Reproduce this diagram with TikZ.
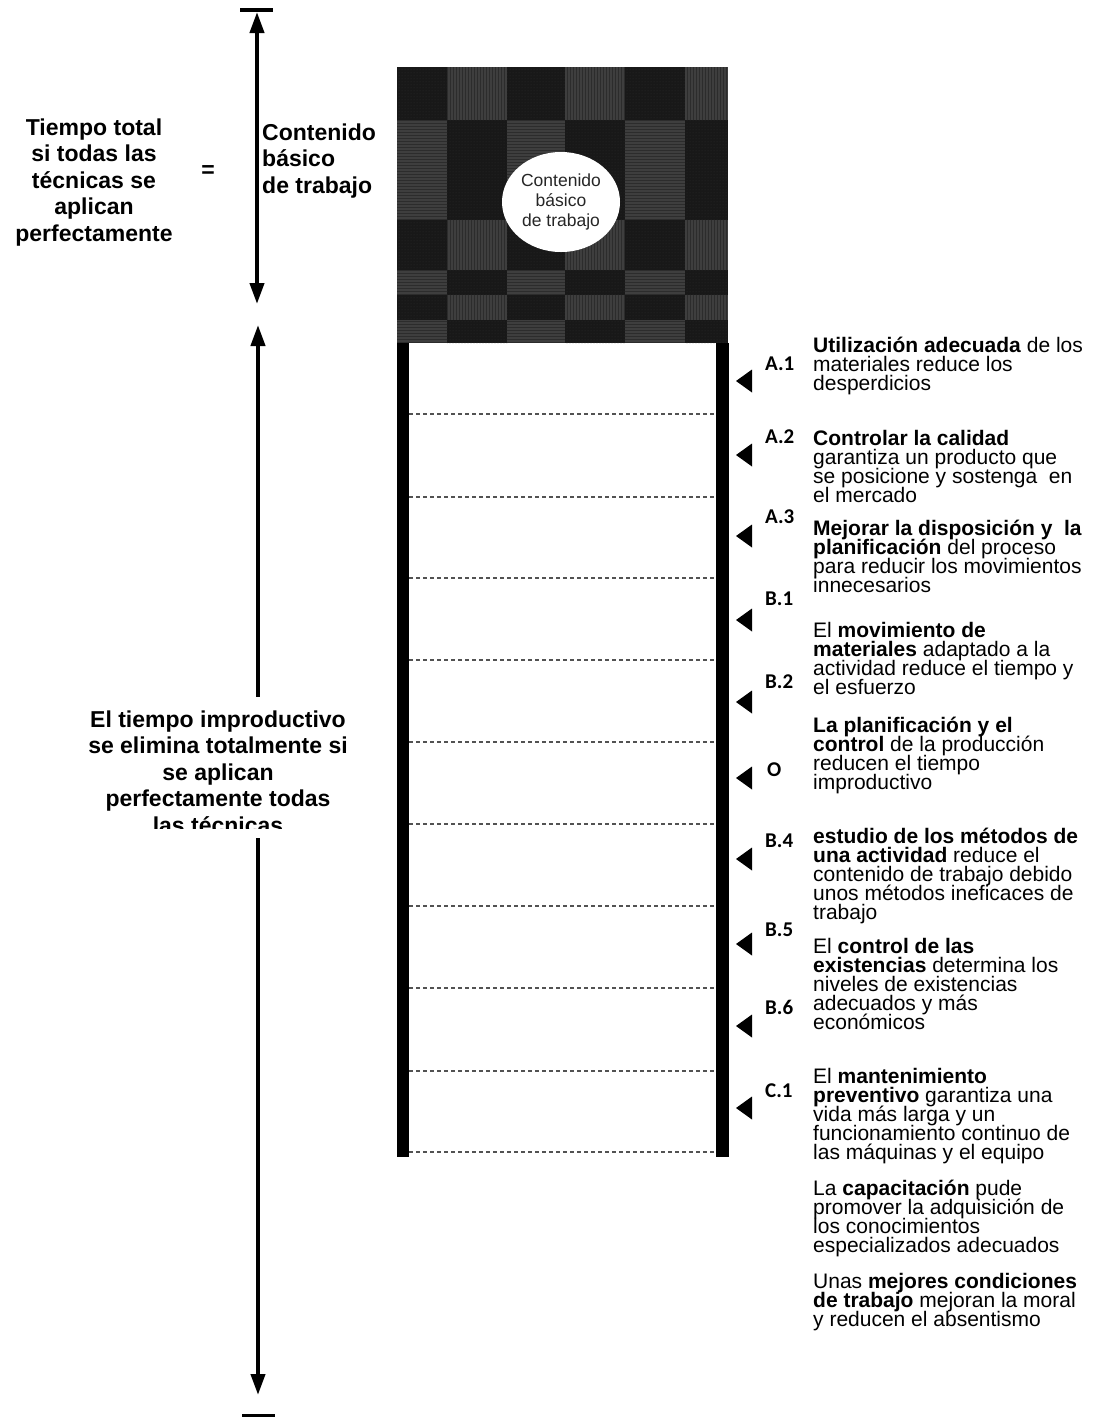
\documentclass[tikz,border=0pt]{standalone}
\usepackage{fontspec}
\setmainfont{Liberation Sans}
\newfontfamily\calib{Carlito}
\usetikzlibrary{arrows.meta,shapes.geometric,patterns}
\definecolor{cdark}{HTML}{181818}
\definecolor{cmed}{HTML}{3E3E3E}
\definecolor{cstripe}{HTML}{2C2C2C}
\definecolor{cnoise}{HTML}{2E2E2E}
\newcommand\rblock[3]{%
  \foreach \t [count=\i] in {#3}
    \node[rtext] (#1-\i) at (813,{#2+19.2*(\i-1)}) {\t};}
\begin{document}
\begin{tikzpicture}[x=1pt,y=-1pt,
  rtext/.style={anchor=base west,inner sep=0pt,font=\fontsize{21}{21}\selectfont},
  ltext/.style={anchor=base,inner sep=0pt,font=\fontsize{23}{23}\selectfont\bfseries},
  lab/.style={anchor=base west,inner sep=0pt,font=\calib\fontsize{21}{21}\selectfont\bfseries},
  tip/.tip={Triangle[length=21pt,width=14pt]},
  dimline/.style={line width=4pt},
  rowline/.style={draw=black!68,line width=2pt,dash pattern=on 4pt off 3pt},
  barfill/.style={fill=black}]
\useasboundingbox (0,0) rectangle (1098,1417);

% ---------- patterned block ----------
\foreach \ya/\yb/\p in {67/120/0,120/170/1,170/220/1,220/270/0,270/295/1,295/320/0,320/343/1}{
  \foreach \xa/\xb [count=\c] in {397/447,447/507,507/565,565/625,625/685,685/728}{
    \pgfmathtruncatemacro\k{mod(\c+\p,2)}
    \ifnum\k=1
      \fill[cdark] (\xa,\ya) rectangle (\xb,\yb);
      \fill[pattern=dots,pattern color=cnoise] (\xa,\ya) rectangle (\xb,\yb);
    \else
      \fill[cmed] (\xa,\ya) rectangle (\xb,\yb);
      \ifodd\c
        \fill[pattern=horizontal lines,pattern color=cstripe] (\xa,\ya) rectangle (\xb,\yb);
      \else
        \fill[pattern=vertical lines,pattern color=cstripe] (\xa,\ya) rectangle (\xb,\yb);
      \fi
    \fi
  }}
\node[ellipse,fill=white,inner sep=0pt,minimum width=118pt,minimum height=100pt,
      align=center,text=black!85,font=\fontsize{17.5}{20}\selectfont] (circ) at (561,202)
      {Contenido\\básico\\de trabajo};

% ---------- white column ----------
\fill[barfill] (397,343) rectangle (409,1157);
\fill[barfill] (716,343) rectangle (729,1157);
\foreach \y in {414,497,578,660,742,824,906,988,1071,1152}
  \draw[rowline] (409,\y) -- (716,\y);

% ---------- pointers ----------
\foreach \c in {381,455,536,620,702,778,859,944,1026,1108}
  \fill (736,\c) -- (752,\c-11.5) -- (752,\c+11.5) -- cycle;

% ---------- labels ----------
\node[lab] (A1) at (765,370) {A.1};
\node[lab] (A2) at (765,443) {A.2};
\node[lab] (A3) at (765,523) {A.3};
\node[lab] (B1) at (765,605) {B.1};
\node[lab] (B2) at (765,688) {B.2};
\node[lab] (O)  at (767,776) {O};
\node[lab] (B4) at (765,847) {B.4};
\node[lab] (B5) at (765,936) {B.5};
\node[lab] (B6) at (765,1014) {B.6};
\node[lab] (C1) at (765,1097) {C.1};

% ---------- right texts ----------
\rblock{t1}{352}{{\textbf{Utilización adecuada} de los},{materiales reduce los},{desperdicios}}
\rblock{t2}{445}{{\textbf{Controlar la calidad}},{garantiza un producto que},{se posicione y sostenga~ en},{el mercado}}
\rblock{t3}{535}{{\textbf{Mejorar la disposición y~ la}},{\textbf{planificación} del proceso},{para reducir los movimientos},{innecesarios}}
\rblock{t4}{637}{{El \textbf{movimiento de}},{\textbf{materiales} adaptado a la},{actividad reduce el tiempo y},{el esfuerzo}}
\rblock{t5}{732}{{\textbf{La planificación y el}},{\textbf{control} de la producción},{reducen el tiempo},{improductivo}}
\rblock{t6}{843}{{\textbf{estudio de los métodos de}},{\textbf{una actividad} reduce el},{contenido de trabajo debido},{unos métodos ineficaces de},{trabajo}}
\rblock{t7}{953}{{El \textbf{control de las}},{\textbf{existencias} determina los},{niveles de existencias},{adecuados y más},{económicos}}
\rblock{t8}{1083}{{El \textbf{mantenimiento}},{\textbf{preventivo} garantiza una},{vida más larga y un},{funcionamiento continuo de},{las máquinas y el equipo}}
\rblock{t9}{1195}{{La \textbf{capacitación} pude},{promover la adquisición de},{los conocimientos},{especializados adecuados}}
\rblock{t10}{1288}{{Unas \textbf{mejores condiciones}},{\textbf{de trabajo} mejoran la moral},{y reducen el absentismo}}

% ---------- left texts ----------
\foreach \t [count=\i] in {Tiempo total,si todas las,técnicas se,aplican,perfectamente}
  \node[ltext] (tt-\i) at (94,{135+26.5*(\i-1)}) {\t};
\node[ltext,anchor=center] (eq) at (208,172) {=};
\foreach \t [count=\i] in {Contenido,básico,de trabajo}
  \node[ltext,anchor=base west] (cb-\i) at (262,{140+26.5*(\i-1)}) {\t};
\foreach \t [count=\i] in {El tiempo improductivo,se elimina totalmente si,se aplican,perfectamente todas}
  \node[ltext] (ti-\i) at (218,{727+26.5*(\i-1)}) {\t};
\begin{scope}
  \clip (60,810) rectangle (380,828);
  \node[ltext] (ti-5) at (218,833) {las técnicas};
\end{scope}

% ---------- dimension arrows ----------
\coordinate (barTa) at (240,10);
\coordinate (barTb) at (273,10);
\draw[line width=4pt] (barTa) -- (barTb);
\coordinate (upT) at (257,12);
\coordinate (upB) at (257,304);
\draw[dimline,{tip}-{tip}] (upT) -- (upB);
\coordinate (loT) at (258,325);
\coordinate (loM1) at (258,697);
\coordinate (loM2) at (258,838);
\coordinate (loB) at (258,1395);
\draw[dimline,{tip}-] (loT) -- (loM1);
\draw[dimline,-{tip}] (loM2) -- (loB);
\coordinate (barBa) at (242,1415);
\coordinate (barBb) at (275,1415);
\draw[line width=3pt] (barBa) -- (barBb);
\end{tikzpicture}
\end{document}
